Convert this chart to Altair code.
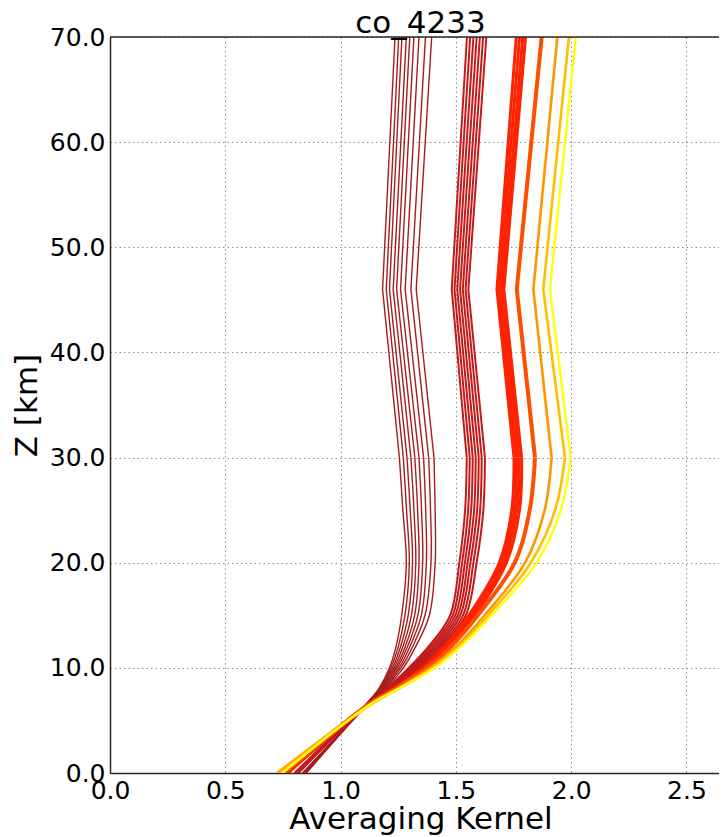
import altair as alt
import pandas as pd

# altitude levels (km) at which every kernel profile is sampled
Z_LEVELS = [0, 6.5, 8, 10, 12, 15, 20, 25, 30, 46, 70]

# averaging kernel values, one list per profile (same order as Z_LEVELS)
DARK_RED = [
    [0.835, 1.108, 1.165, 1.212, 1.240, 1.265, 1.285, 1.270, 1.255, 1.182, 1.236],
    [0.837, 1.109, 1.168, 1.218, 1.250, 1.279, 1.298, 1.286, 1.272, 1.198, 1.252],
    [0.839, 1.110, 1.171, 1.225, 1.260, 1.293, 1.312, 1.302, 1.288, 1.212, 1.266],
    [0.841, 1.111, 1.174, 1.232, 1.270, 1.307, 1.326, 1.318, 1.305, 1.228, 1.285],
    [0.843, 1.112, 1.177, 1.239, 1.280, 1.321, 1.340, 1.334, 1.322, 1.243, 1.300],
    [0.845, 1.113, 1.181, 1.246, 1.290, 1.335, 1.356, 1.351, 1.340, 1.260, 1.318],
    [0.847, 1.114, 1.185, 1.254, 1.300, 1.350, 1.372, 1.369, 1.360, 1.280, 1.340],
    [0.849, 1.115, 1.189, 1.262, 1.312, 1.366, 1.392, 1.390, 1.382, 1.305, 1.368],
    [0.852, 1.116, 1.194, 1.272, 1.325, 1.385, 1.410, 1.410, 1.405, 1.328, 1.395],
]
CRIMSON = [
    [0.800, 1.112, 1.198, 1.295, 1.380, 1.475, 1.515, 1.540, 1.547, 1.482, 1.548],
    [0.803, 1.113, 1.202, 1.303, 1.390, 1.486, 1.527, 1.553, 1.560, 1.494, 1.562],
    [0.806, 1.114, 1.206, 1.311, 1.400, 1.497, 1.539, 1.566, 1.573, 1.506, 1.576],
    [0.809, 1.115, 1.210, 1.319, 1.410, 1.508, 1.551, 1.579, 1.586, 1.518, 1.590],
    [0.812, 1.116, 1.214, 1.327, 1.420, 1.519, 1.563, 1.592, 1.599, 1.530, 1.604],
    [0.815, 1.117, 1.218, 1.335, 1.430, 1.531, 1.576, 1.605, 1.612, 1.542, 1.618],
    [0.818, 1.118, 1.222, 1.345, 1.440, 1.543, 1.590, 1.619, 1.626, 1.554, 1.632],
]
RED = [
    [0.760, 1.118, 1.228, 1.355, 1.450, 1.556, 1.688, 1.742, 1.752, 1.678, 1.762],
    [0.764, 1.119, 1.231, 1.360, 1.457, 1.565, 1.698, 1.753, 1.763, 1.688, 1.776],
    [0.768, 1.120, 1.234, 1.365, 1.464, 1.574, 1.708, 1.764, 1.774, 1.698, 1.790],
    [0.772, 1.121, 1.237, 1.370, 1.471, 1.583, 1.719, 1.776, 1.785, 1.708, 1.802],
]
ORANGE_RED = [[0.755, 1.120, 1.236, 1.375, 1.478, 1.595, 1.755, 1.820, 1.843, 1.764, 1.872]]
ORANGE = [[0.725, 1.128, 1.245, 1.390, 1.500, 1.625, 1.800, 1.885, 1.915, 1.836, 1.940]]
GOLD = [[0.735, 1.130, 1.250, 1.400, 1.510, 1.640, 1.825, 1.930, 1.973, 1.879, 1.990]]
YELLOW = [[0.748, 1.126, 1.250, 1.408, 1.520, 1.655, 1.850, 1.955, 1.998, 1.908, 2.020]]

GROUP_NAMES = ["darkred", "crimson", "red", "orangered", "orange", "gold", "yellow"]
GROUP_DATA = [DARK_RED, CRIMSON, RED, ORANGE_RED, ORANGE, GOLD, YELLOW]
GROUP_COLORS = ["#a51d1d", "#c41a1a", "#ff2200", "#ff4e00", "#ff9600", "#ffbf00", "#ffff10"]
GROUP_WIDTHS = [1.4, 2.0, 3.0, 4.0, 2.6, 2.6, 2.4]

X_TICKS = [0.0, 0.5, 1.0, 1.5, 2.0, 2.5]
Y_TICKS = [0, 10, 20, 30, 40, 50, 60, 70]
Z_TOP = [70]
Z_BREAK = 30  # smooth troposphere part below, straight segments above

rows = []
for gname, lines in zip(GROUP_NAMES, GROUP_DATA):
    for i, line in enumerate(lines):
        for z, v in zip(Z_LEVELS, line):
            if z <= Z_BREAK:
                rows.append({"group": gname, "part": "low", "line": f"{gname}_{i}", "z": z, "ak": v})
            if z >= Z_BREAK:
                rows.append({"group": gname, "part": "high", "line": f"{gname}_{i}", "z": z, "ak": v})
df = pd.DataFrame(rows)

FONT = "DejaVu Sans"
FRAME = "#262626"

x_enc = alt.X(
    "ak:Q",
    scale=alt.Scale(domain=[0, 2.641], nice=False, zero=False),
    axis=alt.Axis(
        values=X_TICKS, format=".1f", title="Averaging Kernel",
        labelFlush=False, labelPadding=5, titlePadding=1, titleX=310.5,
    ),
)
y_enc = alt.Y(
    "z:Q",
    scale=alt.Scale(domain=[0, 70], nice=False, zero=False),
    axis=alt.Axis(
        values=Y_TICKS, format=".1f", title="Z [km]",
        labelFlush=False, labelPadding=5, titlePadding=6,
    ),
)

layers = []
for gname, color, width in zip(GROUP_NAMES, GROUP_COLORS, GROUP_WIDTHS):
    for part, interp in (("low", "catmull-rom"), ("high", "linear")):
        layers.append(
            alt.Chart(df)
            .transform_filter((alt.datum.group == gname) & (alt.datum.part == part))
            .mark_line(color=color, strokeWidth=width, clip=True,
                       strokeJoin="round", interpolate=interp)
            .encode(x=x_enc, y=y_enc, detail="line:N", order="z:Q")
        )

top_frame = (
    alt.Chart(pd.DataFrame({"z": Z_TOP}))
    .mark_rule(color=FRAME, strokeWidth=1.5)
    .encode(y=alt.Y("z:Q"))
)
layers.append(top_frame)

chart = (
    alt.layer(*layers)
    .properties(
        width=609,
        height=736,
        title=alt.TitleParams("co_4233", fontSize=31, font=FONT, fontWeight="normal",
                              color="black", offset=-15, dx=6, anchor="middle"),
        padding={"left": 102, "top": 29, "right": 0, "bottom": 64},
        autosize=alt.AutoSizeParams(type="none"),
    )
    .configure_view(strokeWidth=0)
    .configure_axis(
        labelFont=FONT, titleFont=FONT, labelFontSize=25, titleFontSize=31,
        labelColor="black", titleColor="black", titleFontWeight="normal",
        ticks=False, domain=True, domainColor=FRAME, domainWidth=1.5,
        grid=True, gridColor="#8f8f8f", gridDash=[1.5, 3], gridWidth=1,
    )
)

chart.save("out.html", embed_options={"renderer": "svg", "actions": False})
